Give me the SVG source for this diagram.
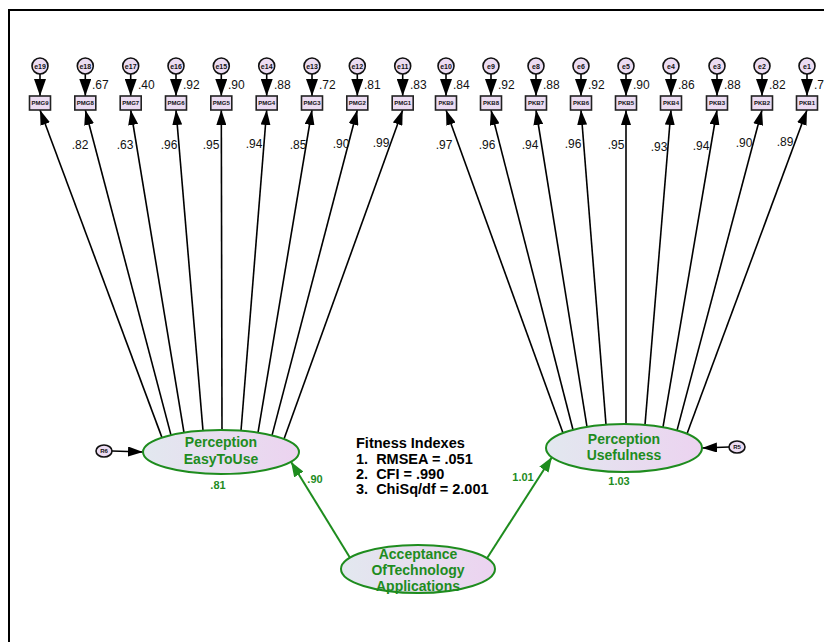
<svg xmlns="http://www.w3.org/2000/svg" width="824" height="642" viewBox="0 0 824 642">
<defs>
<linearGradient id="lg" x1="0" y1="0" x2="1" y2="0">
<stop offset="0" stop-color="#e2e8ef"/>
<stop offset="1" stop-color="#ecd3f0"/>
</linearGradient>
<marker id="ab" markerUnits="userSpaceOnUse" markerWidth="15" markerHeight="10" refX="15" refY="5" orient="auto">
<path d="M0,0 L15,5 L0,10 z" fill="#000"/>
</marker>
<marker id="ae" markerUnits="userSpaceOnUse" markerWidth="17" markerHeight="12" refX="17" refY="6" orient="auto">
<path d="M0,0 L17,6 L0,12 z" fill="#000"/>
</marker>
<marker id="ag" markerUnits="userSpaceOnUse" markerWidth="15" markerHeight="11" refX="15" refY="5.5" orient="auto">
<path d="M0,0 L15,5.5 L0,11 z" fill="#1e8c1e"/>
</marker>
</defs>
<style>
.err{fill:#ecdcf2;stroke:#111;stroke-width:1.6}
.box{fill:#ecdcf2;stroke:#222;stroke-width:1.6}
.et{font-family:"Liberation Sans",Arial,sans-serif;font-size:7px;font-weight:bold;fill:#111;text-anchor:middle}
.bt{font-family:"Liberation Sans",Arial,sans-serif;font-size:6px;font-weight:bold;fill:#111;text-anchor:middle}
.num{font-family:"Liberation Sans",Arial,sans-serif;font-size:12px;fill:#111}
.ld{font-family:"Liberation Sans",Arial,sans-serif;font-size:12px;fill:#111;text-anchor:middle}
.lat{fill:url(#lg);stroke:#1e8c1e;stroke-width:2}
.lt{font-family:"Liberation Sans",Arial,sans-serif;font-size:14px;font-weight:bold;fill:#1e8c1e;text-anchor:middle}
.gn{font-family:"Liberation Sans",Arial,sans-serif;font-size:11px;font-weight:bold;fill:#1e8c1e;text-anchor:middle}
.fit{font-family:"Liberation Sans",Arial,sans-serif;font-size:14.5px;font-weight:bold;fill:#000}
.lb{stroke:#000;stroke-width:1.6;fill:none;marker-end:url(#ab)}
.le{stroke:#000;stroke-width:1.6;fill:none;marker-end:url(#ae)}
.lg{stroke:#1e8c1e;stroke-width:2;fill:none;marker-end:url(#ag)}
.res{fill:#ecdcf2;stroke:#111;stroke-width:1.6}
.rt{font-family:"Liberation Sans",Arial,sans-serif;font-size:6px;font-weight:bold;fill:#111;text-anchor:middle}
</style>
<rect x="0" y="0" width="824" height="642" fill="#fff"/>
<rect x="9" y="10" width="840" height="660" fill="none" stroke="#000" stroke-width="2"/>

<g id="connectors">
<line class="le" x1="40" y1="74" x2="40" y2="96"/>
<line class="le" x1="85.3" y1="74" x2="85.3" y2="96"/>
<line class="le" x1="130.7" y1="74" x2="130.7" y2="96"/>
<line class="le" x1="176" y1="74" x2="176" y2="96"/>
<line class="le" x1="221.3" y1="74" x2="221.3" y2="96"/>
<line class="le" x1="266.7" y1="74" x2="266.7" y2="96"/>
<line class="le" x1="312" y1="74" x2="312" y2="96"/>
<line class="le" x1="357.3" y1="74" x2="357.3" y2="96"/>
<line class="le" x1="402.7" y1="74" x2="402.7" y2="96"/>
<line class="le" x1="446" y1="74" x2="446" y2="96"/>
<line class="le" x1="491" y1="74" x2="491" y2="96"/>
<line class="le" x1="536" y1="74" x2="536" y2="96"/>
<line class="le" x1="581" y1="74" x2="581" y2="96"/>
<line class="le" x1="626" y1="74" x2="626" y2="96"/>
<line class="le" x1="671" y1="74" x2="671" y2="96"/>
<line class="le" x1="717" y1="74" x2="717" y2="96"/>
<line class="le" x1="762" y1="74" x2="762" y2="96"/>
<line class="le" x1="807" y1="74" x2="807" y2="96"/>

<line class="lb" x1="162" y1="437.6" x2="40" y2="110"/>
<line class="lb" x1="171" y1="435.1" x2="85.3" y2="110"/>
<line class="lb" x1="184" y1="432.6" x2="130.7" y2="110"/>
<line class="lb" x1="203" y1="430.6" x2="176" y2="110"/>
<line class="lb" x1="222" y1="430" x2="221.3" y2="110"/>
<line class="lb" x1="241" y1="430.7" x2="266.7" y2="110"/>
<line class="lb" x1="258" y1="432.6" x2="312" y2="110"/>
<line class="lb" x1="272" y1="435.4" x2="357.3" y2="110"/>
<line class="lb" x1="284" y1="439" x2="402.7" y2="110"/>

<line class="lb" x1="563" y1="433" x2="446" y2="110"/>
<line class="lb" x1="573" y1="429.8" x2="491" y2="110"/>
<line class="lb" x1="587" y1="426.9" x2="536" y2="110"/>
<line class="lb" x1="606" y1="424.6" x2="581" y2="110"/>
<line class="lb" x1="626" y1="424" x2="626" y2="110"/>
<line class="lb" x1="645" y1="424.9" x2="671" y2="110"/>
<line class="lb" x1="663" y1="427.2" x2="717" y2="110"/>
<line class="lb" x1="677" y1="430.4" x2="762" y2="110"/>
<line class="lb" x1="687" y1="433.8" x2="807" y2="110"/>

<line class="lb" x1="112" y1="451" x2="143" y2="452"/>
<line class="lb" x1="729" y1="447" x2="702" y2="448"/>

<line class="lg" x1="350" y1="557.7" x2="291" y2="461.7"/>
<line class="lg" x1="487" y1="558.3" x2="552" y2="457"/>
</g>

<g id="labels">
<text class="num" x="92" y="89">.67</text>
<text class="num" x="138" y="89">.40</text>
<text class="num" x="183" y="89">.92</text>
<text class="num" x="228" y="89">.90</text>
<text class="num" x="274" y="89">.88</text>
<text class="num" x="319" y="89">.72</text>
<text class="num" x="364" y="89">.81</text>
<text class="num" x="410" y="89">.83</text>
<text class="num" x="453" y="89">.84</text>
<text class="num" x="498" y="89">.92</text>
<text class="num" x="543" y="89">.88</text>
<text class="num" x="588" y="89">.92</text>
<text class="num" x="633" y="89">.90</text>
<text class="num" x="678" y="89">.86</text>
<text class="num" x="724" y="89">.88</text>
<text class="num" x="769" y="89">.82</text>
<text class="num" x="814" y="89">.7</text>

<text class="ld" x="80" y="149">.82</text>
<text class="ld" x="125" y="149">.63</text>
<text class="ld" x="169" y="149">.96</text>
<text class="ld" x="211" y="149">.95</text>
<text class="ld" x="254" y="148">.94</text>
<text class="ld" x="298" y="149">.85</text>
<text class="ld" x="341" y="148">.90</text>
<text class="ld" x="381" y="147">.99</text>
<text class="ld" x="444" y="149">.97</text>
<text class="ld" x="487" y="149">.96</text>
<text class="ld" x="530" y="149">.94</text>
<text class="ld" x="573" y="148">.96</text>
<text class="ld" x="616" y="149">.95</text>
<text class="ld" x="659" y="151">.93</text>
<text class="ld" x="701" y="150">.94</text>
<text class="ld" x="744" y="147">.90</text>
<text class="ld" x="785" y="146">.89</text>

<text class="gn" x="218" y="489">.81</text>
<text class="gn" x="315" y="483">.90</text>
<text class="gn" x="523" y="481">1.01</text>
<text class="gn" x="619" y="485">1.03</text>
</g>

<g id="fitness">
<text class="fit" x="356" y="448">Fitness Indexes</text>
<text class="fit" x="356" y="464" xml:space="preserve">1.  RMSEA = .051</text>
<text class="fit" x="356" y="479" xml:space="preserve">2.  CFI = .990</text>
<text class="fit" x="356" y="494" xml:space="preserve">3.  ChiSq/df = 2.001</text>
</g>

<g id="e19"><circle class="err" cx="40" cy="66" r="8"/><text class="et" x="40" y="68.5">e19</text></g>
<g id="e18"><circle class="err" cx="85.3" cy="66" r="8"/><text class="et" x="85.3" y="68.5">e18</text></g>
<g id="e17"><circle class="err" cx="130.7" cy="66" r="8"/><text class="et" x="130.7" y="68.5">e17</text></g>
<g id="e16"><circle class="err" cx="176" cy="66" r="8"/><text class="et" x="176" y="68.5">e16</text></g>
<g id="e15"><circle class="err" cx="221.3" cy="66" r="8"/><text class="et" x="221.3" y="68.5">e15</text></g>
<g id="e14"><circle class="err" cx="266.7" cy="66" r="8"/><text class="et" x="266.7" y="68.5">e14</text></g>
<g id="e13"><circle class="err" cx="312" cy="66" r="8"/><text class="et" x="312" y="68.5">e13</text></g>
<g id="e12"><circle class="err" cx="357.3" cy="66" r="8"/><text class="et" x="357.3" y="68.5">e12</text></g>
<g id="e11"><circle class="err" cx="402.7" cy="66" r="8"/><text class="et" x="402.7" y="68.5">e11</text></g>
<g id="e10"><circle class="err" cx="446" cy="66" r="8"/><text class="et" x="446" y="68.5">e10</text></g>
<g id="e9"><circle class="err" cx="491" cy="66" r="8"/><text class="et" x="491" y="68.5">e9</text></g>
<g id="e8"><circle class="err" cx="536" cy="66" r="8"/><text class="et" x="536" y="68.5">e8</text></g>
<g id="e6"><circle class="err" cx="581" cy="66" r="8"/><text class="et" x="581" y="68.5">e6</text></g>
<g id="e5"><circle class="err" cx="626" cy="66" r="8"/><text class="et" x="626" y="68.5">e5</text></g>
<g id="e4"><circle class="err" cx="671" cy="66" r="8"/><text class="et" x="671" y="68.5">e4</text></g>
<g id="e3"><circle class="err" cx="717" cy="66" r="8"/><text class="et" x="717" y="68.5">e3</text></g>
<g id="e2"><circle class="err" cx="762" cy="66" r="8"/><text class="et" x="762" y="68.5">e2</text></g>
<g id="e1"><circle class="err" cx="807" cy="66" r="8"/><text class="et" x="807" y="68.5">e1</text></g>

<g id="PMG9"><rect class="box" x="29.5" y="96" width="21" height="14"/><text class="bt" x="40" y="105">PMG9</text></g>
<g id="PMG8"><rect class="box" x="74.8" y="96" width="21" height="14"/><text class="bt" x="85.3" y="105">PMG8</text></g>
<g id="PMG7"><rect class="box" x="120.2" y="96" width="21" height="14"/><text class="bt" x="130.7" y="105">PMG7</text></g>
<g id="PMG6"><rect class="box" x="165.5" y="96" width="21" height="14"/><text class="bt" x="176" y="105">PMG6</text></g>
<g id="PMG5"><rect class="box" x="210.8" y="96" width="21" height="14"/><text class="bt" x="221.3" y="105">PMG5</text></g>
<g id="PMG4"><rect class="box" x="256.2" y="96" width="21" height="14"/><text class="bt" x="266.7" y="105">PMG4</text></g>
<g id="PMG3"><rect class="box" x="301.5" y="96" width="21" height="14"/><text class="bt" x="312" y="105">PMG3</text></g>
<g id="PMG2"><rect class="box" x="346.8" y="96" width="21" height="14"/><text class="bt" x="357.3" y="105">PMG2</text></g>
<g id="PMG1"><rect class="box" x="392.2" y="96" width="21" height="14"/><text class="bt" x="402.7" y="105">PMG1</text></g>
<g id="PKB9"><rect class="box" x="435.5" y="96" width="21" height="14"/><text class="bt" x="446" y="105" font-size="5" textLength="15" lengthAdjust="spacingAndGlyphs">PKB9</text></g>
<g id="PKB8"><rect class="box" x="480.5" y="96" width="21" height="14"/><text class="bt" x="491" y="105">PKB8</text></g>
<g id="PKB7"><rect class="box" x="525.5" y="96" width="21" height="14"/><text class="bt" x="536" y="105">PKB7</text></g>
<g id="PKB6"><rect class="box" x="570.5" y="96" width="21" height="14"/><text class="bt" x="581" y="105">PKB6</text></g>
<g id="PKB5"><rect class="box" x="615.5" y="96" width="21" height="14"/><text class="bt" x="626" y="105">PKB5</text></g>
<g id="PKB4"><rect class="box" x="660.5" y="96" width="21" height="14"/><text class="bt" x="671" y="105">PKB4</text></g>
<g id="PKB3"><rect class="box" x="706.5" y="96" width="21" height="14"/><text class="bt" x="717" y="105">PKB3</text></g>
<g id="PKB2"><rect class="box" x="751.5" y="96" width="21" height="14"/><text class="bt" x="762" y="105">PKB2</text></g>
<g id="PKB1"><rect class="box" x="796.5" y="96" width="21" height="14"/><text class="bt" x="807" y="105">PKB1</text></g>

<g id="R6"><ellipse class="res" cx="104" cy="451" rx="8" ry="6"/><text class="rt" x="104" y="453">R6</text></g>
<g id="R5"><ellipse class="res" cx="737" cy="447" rx="8" ry="6"/><text class="rt" x="737" y="449">R5</text></g>

<g id="PerceptionEasyToUse"><ellipse class="lat" cx="221" cy="452" rx="78" ry="22"/><text class="lt" x="221" y="447">Perception</text><text class="lt" x="221" y="464">EasyToUse</text></g>
<g id="PerceptionUsefulness"><ellipse class="lat" cx="624" cy="448" rx="78" ry="24"/><text class="lt" x="624" y="444">Perception</text><text class="lt" x="624" y="460">Usefulness</text></g>
<g id="AcceptanceOfTechnologyApplications"><ellipse class="lat" cx="418" cy="569" rx="77" ry="24"/><text class="lt" x="418" y="559">Acceptance</text><text class="lt" x="418" y="575">OfTechnology</text><text class="lt" x="418" y="591">Applications</text></g>
</svg>
